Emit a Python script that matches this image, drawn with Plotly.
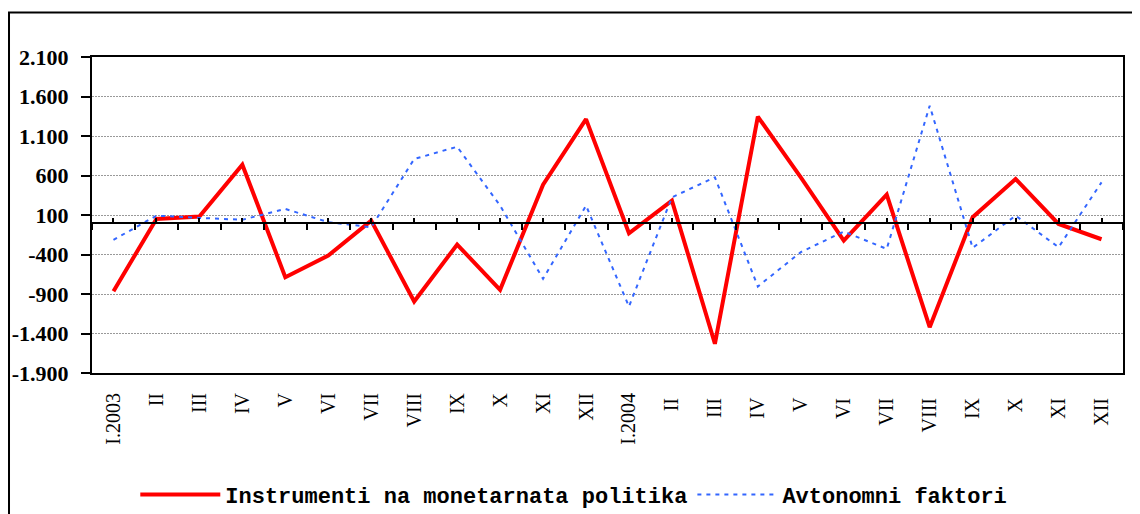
import plotly.graph_objects as go

months = ["I.2003", "II", "III", "IV", "V", "VI", "VII", "VIII", "IX", "X", "XI", "XII",
          "I.2004", "II ", "III ", "IV ", "V ", "VI ", "VII ", "VIII ", "IX ", "X ", "XI ", "XII "]
instrumenti = [-865, 50, 80, 737, -687, -413, 29, -995, -274, -847, 484, 1314,
               -131, 282, -1530, 1344, 577, -224, 358, -1320, 71, 556, -13, -207]
avtonomni = [-215, 92, 63, 40, 177, 10, -55, 809, 964, 219, -708, 219,
             -1058, 324, 577, -805, -370, -110, -329, 1483, -316, 92, -308, 513]
y_tick_vals = [2100, 1600, 1100, 600, 100, -400, -900, -1400, -1900]
y_tick_text = ["2.100", "1.600", "1.100", "600", "100", "-400", "-900", "-1.400", "-1.900"]
name_instr = "Instrumenti na monetarnata politika"
name_avt = "Avtonomni faktori"

y_min, y_max = -1900, 2100
n = len(months)

fig = go.Figure()
fig.add_trace(go.Scatter(x=months, y=instrumenti, mode="lines", name=name_instr,
                         line=dict(color="#FF0000", width=4), hoverinfo="skip"))
fig.add_trace(go.Scatter(x=months, y=avtonomni, mode="lines", name=name_avt,
                         line=dict(color="#3366FF", width=2, dash="4px,5px"), hoverinfo="skip"))
# helper trace to attach the zero-line axis (invisible)
fig.add_trace(go.Scatter(x=list(range(n)), y=instrumenti, xaxis="x2", mode="lines",
                         line=dict(width=0, color="rgba(0,0,0,0)"), showlegend=False,
                         hoverinfo="skip"))

zero_pos = (0 - y_min) / (y_max - y_min)

fig.update_layout(
    template="none",
    width=1132, height=506,
    margin=dict(l=84, r=17, t=49, b=141, autoexpand=False),
    paper_bgcolor="white", plot_bgcolor="white",
    showlegend=True,
    legend=dict(orientation="h", x=0.042, xanchor="left", y=-0.385, yanchor="middle",
                font=dict(family="Liberation Mono", size=22, color="black", weight="bold"),
                itemwidth=80, tracegroupgap=0, bgcolor="rgba(0,0,0,0)"),
    xaxis=dict(type="category", range=[-0.5, n - 0.5], showgrid=False, zeroline=False,
               automargin=False,
               showline=True, linecolor="black", linewidth=2, mirror=True,
               ticks="", tickangle=-90, ticklabelstandoff=10,
               tickfont=dict(family="Liberation Serif", size=20, color="black")),
    xaxis2=dict(overlaying="x", anchor="free", position=zero_pos, side="bottom",
                range=[-0.5, n - 0.5], showgrid=False, zeroline=False, automargin=False,
                showline=True, linecolor="black", linewidth=2,
                tickmode="linear", tick0=0.5, dtick=1, ticks="outside", ticklen=6,
                tickwidth=2, tickcolor="black", showticklabels=False,
                minor=dict(ticks="inside", tick0=0, dtick=1, ticklen=4, tickwidth=2,
                           tickcolor="black", showgrid=False)),
    yaxis=dict(range=[y_min, y_max], tickvals=y_tick_vals, ticktext=y_tick_text,
               automargin=False, ticklabelstandoff=8,
               showgrid=True, gridcolor="#999999", gridwidth=1, griddash="2px,1px",
               zeroline=False, showline=True, linecolor="black", linewidth=2, mirror=True,
               ticks="outside", ticklen=9, tickwidth=2, tickcolor="black",
               tickfont=dict(family="Liberation Serif", size=22, color="black", weight="bold")),
    shapes=[dict(type="rect", xref="paper", yref="paper",
                 x0=-0.0805, x1=1.03, y0=-0.6, y1=1.1408,
                 line=dict(color="black", width=2), fillcolor="rgba(0,0,0,0)", layer="below")],
)

fig.write_html("out.html")
